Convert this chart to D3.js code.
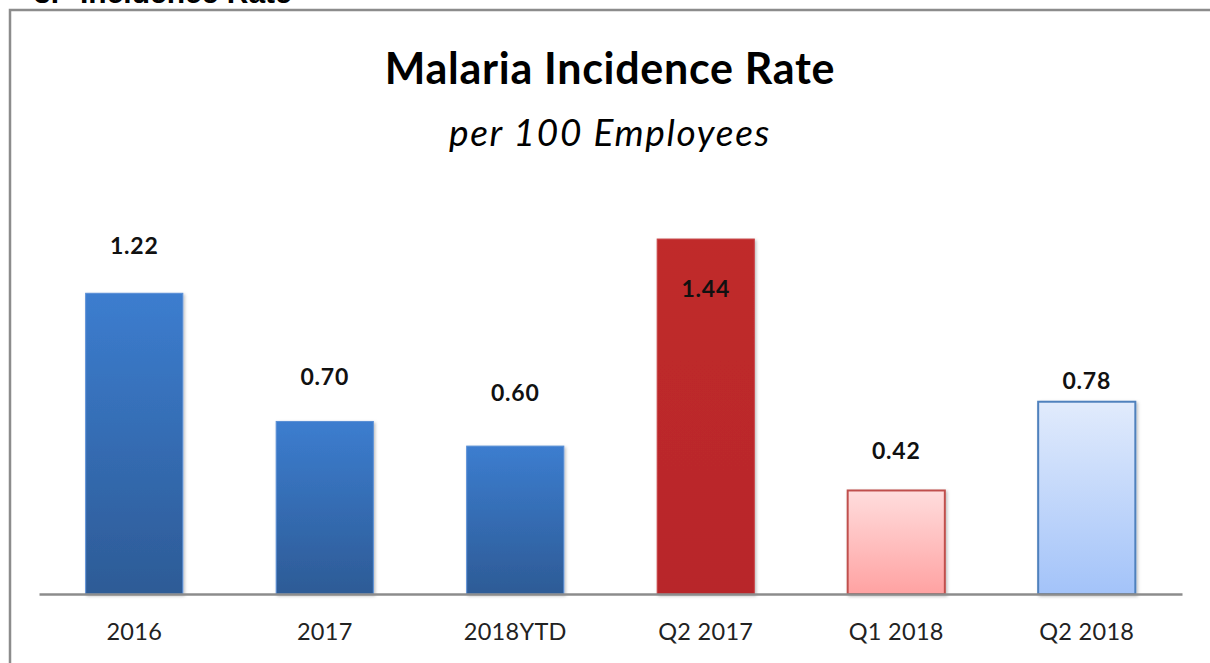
<!DOCTYPE html>
<meta charset="utf-8">
<style>
body { margin: 0; background: #fff; }
text { font-family: Lato, "Noto Sans", sans-serif; }
.title { font-size: 43px; font-weight: bold; text-anchor: middle; fill: #000; letter-spacing: 0.7px; }
.subtitle { font-size: 37px; font-style: italic; text-anchor: middle; fill: #000; letter-spacing: 1.7px; }
.value { font-size: 23px; font-weight: bold; text-anchor: middle; fill: #111; letter-spacing: 0.8px; }
.cat { font-size: 23.5px; text-anchor: middle; fill: #222; letter-spacing: 0.3px; }
.heading { font: bold 30px "Liberation Sans", Arial, sans-serif; fill: #000; }
</style>
<svg width="1210" height="663"></svg>
<script src="https://d3js.org/d3.v7.min.js"></script>
<script>

var categories = ["2016", "2017", "2018YTD", "Q2 2017", "Q1 2018", "Q2 2018"];
var values = [1.22, 0.70, 0.60, 1.44, 0.42, 0.78];
var labels = ["1.22", "0.70", "0.60", "1.44", "0.42", "0.78"];
var fills = ["blue", "blue", "blue", "red", "lightred", "lightblue"];

// where each value label sits relative to its bar top (px, negative = above)
var labelOffsets = [-47, -45, -53, 50, -40, -21];

var svg = d3.select("svg"),
    baseY = 594;

var defs = svg.append("defs");
function grad(id, top, bottom) {
  var g = defs.append("linearGradient").attr("id", id)
      .attr("x1", 0).attr("y1", 0).attr("x2", 0).attr("y2", 1);
  g.append("stop").attr("offset", "0%").attr("stop-color", top);
  g.append("stop").attr("offset", "100%").attr("stop-color", bottom);
}
grad("blue", "#3c7dcf", "#2d5b96");
grad("red", "#c02a2c", "#b82729");
grad("lightred", "#ffdddd", "#ffa2a2");
grad("lightblue", "#e1ebfc", "#a3c3f9");
var strokes = { blue: "#5a8fd6", red: "#c84446", lightred: "#c0504d", lightblue: "#4f81bd" };

var f = defs.append("filter").attr("id", "shadow")
    .attr("x", "-10%").attr("y", "-10%").attr("width", "130%").attr("height", "130%");
f.append("feDropShadow").attr("dx", 1.5).attr("dy", 1.5).attr("stdDeviation", 1.5)
    .attr("flood-color", "#000").attr("flood-opacity", 0.25);

// cut-off section heading and frame
svg.append("text").attr("class", "heading").attr("x", 34).attr("y", 3).text("3.");
svg.append("text").attr("class", "heading").attr("x", 80).attr("y", 3).text("Incidence Rate");
svg.append("path").attr("d", "M10,663V10H1210")
    .attr("fill", "none").attr("stroke", "#8c8c8c").attr("stroke-width", 2.5);

var x = d3.scaleBand()
    .domain(categories)
    .range([39, 1182])
    .paddingInner(0.49)
    .paddingOuter(0.245);

var y = d3.scaleLinear()
    .domain([0, 1.6])
    .range([baseY, baseY - 1.6 * 246.5]);

svg.append("text").attr("class", "title").attr("x", 610).attr("y", 84).text("Malaria Incidence Rate");
svg.append("text").attr("class", "subtitle").attr("x", 610).attr("y", 146).text("per 100 Employees");

svg.selectAll(".bar")
  .data(values)
  .enter().append("rect")
    .attr("class", "bar")
    .attr("x", function(d, i) { return x(categories[i]); })
    .attr("y", function(d) { return y(d); })
    .attr("width", x.bandwidth())
    .attr("height", function(d) { return y(0) - y(d); })
    .attr("fill", function(d, i) { return "url(#" + fills[i] + ")"; })
    .attr("stroke", function(d, i) { return strokes[fills[i]]; })
    .attr("stroke-width", function(d, i) { return fills[i].indexOf("light") === 0 ? 2 : 1; })
    .attr("filter", "url(#shadow)");

svg.selectAll(".value")
  .data(values)
  .enter().append("text")
    .attr("class", "value")
    .attr("x", function(d, i) { return x(categories[i]) + x.bandwidth() / 2; })
    .attr("y", function(d, i) { return y(d) + labelOffsets[i]; })
    .attr("dy", "0.35em")
    .text(function(d, i) { return labels[i]; });

var axis = svg.append("g").attr("transform", "translate(0," + baseY + ")")
    .call(d3.axisBottom(x).tickSize(0).tickPadding(29));
axis.select(".domain").attr("stroke", "#8c8c8c").attr("stroke-width", 2.5);
axis.selectAll("text").attr("class", "cat").attr("font-family", null).attr("font-size", null).attr("fill", null);

</script>
